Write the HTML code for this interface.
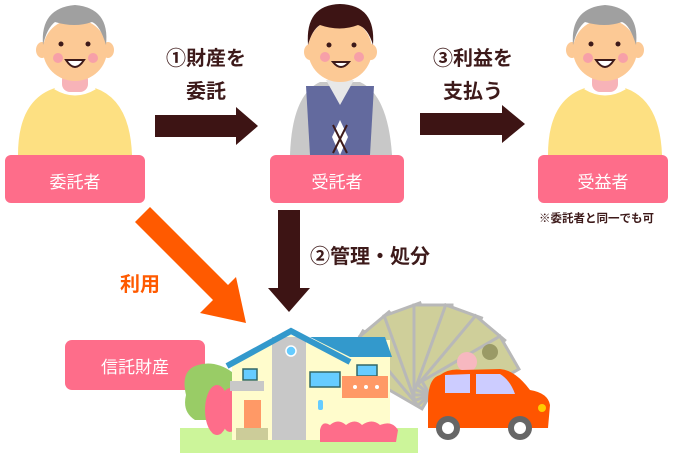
<!DOCTYPE html>
<html><head><meta charset="utf-8"><style>
html,body{margin:0;padding:0;background:#fff;}
svg{display:block;}
text{font-family:"Liberation Sans","Noto Sans CJK JP",sans-serif;}
</style></head><body>
<svg width="680" height="460" viewBox="0 0 680 460" xmlns="http://www.w3.org/2000/svg">
<!-- Left person -->
<g id="elder">
<path d="M18,155 Q18,100 55,88 L95,88 Q130,100 132,155 Z" fill="#fde082"/>
<path d="M55,88 Q75,100 95,88" fill="#fff" stroke="#fff" stroke-width="3"/>
<rect x="62" y="72" width="26" height="20" rx="8" fill="#f7b3b8"/>
<ellipse cx="42" cy="50" rx="6" ry="8" fill="#fcc995"/>
<ellipse cx="108" cy="50" rx="6" ry="8" fill="#fcc995"/>
<ellipse cx="75" cy="50" rx="32" ry="31" fill="#fcc995"/>
<path d="M43,45 Q40,8 75,5 Q110,8 106,45 Q100,25 92,22 Q75,28 55,22 Q47,28 43,45Z" fill="#a0a0a0"/>
<circle cx="61" cy="44" r="2.5" fill="#3d1a1a"/><circle cx="88" cy="44" r="2.5" fill="#3d1a1a"/>
<circle cx="58" cy="58" r="5" fill="#f7a0a8"/><circle cx="93" cy="58" r="5" fill="#f7a0a8"/>
<path d="M66,60 Q75,74 84,60 Z" fill="#fff" stroke="#3d1a1a" stroke-width="2"/>
</g>
<rect x="5" y="155" width="140" height="48" rx="6" fill="#fe6d8a"/>
<text x="75" y="188" font-size="17" fill="#fff" text-anchor="middle">委託者</text>

<!-- Middle person -->
<path d="M290,155 Q292,95 320,82 L360,82 Q388,95 392,155 Z" fill="#c8c8c8"/>
<path d="M306,86 L374,86 L370,155 L310,155 Z" fill="#636a9e"/>
<path d="M326,80 L340,105 L354,80 Z" fill="#e8e8e8"/>
<path d="M340,120 L348,137 L340,155 L332,137Z" fill="#fff"/>
<path d="M333,125 L347,153 M347,125 L333,153" stroke="#3d1a1a" stroke-width="2"/>
<ellipse cx="310" cy="52" rx="6" ry="8" fill="#fcc995"/>
<ellipse cx="371" cy="52" rx="6" ry="8" fill="#fcc995"/>
<ellipse cx="340" cy="50" rx="32" ry="32" fill="#fcc995"/>
<path d="M308,45 Q305,5 340,4 Q376,5 373,45 Q368,28 358,25 Q340,32 320,25 Q312,30 308,45Z" fill="#3d1414"/>
<circle cx="329" cy="45" r="2.5" fill="#3d1a1a"/><circle cx="354" cy="45" r="2.5" fill="#3d1a1a"/>
<circle cx="325" cy="57" r="5" fill="#f7a0a8"/><circle cx="359" cy="57" r="5" fill="#f7a0a8"/>
<path d="M333,62 Q341,72 349,62 Z" fill="#fff" stroke="#3d1a1a" stroke-width="2"/>
<rect x="270" y="155" width="134" height="48" rx="6" fill="#fe6d8a"/>
<text x="337" y="188" font-size="17" fill="#fff" text-anchor="middle">受託者</text>

<!-- Right person -->
<g transform="translate(530,0)"><use href="#elder"/></g>
<rect x="538" y="155" width="130" height="48" rx="6" fill="#fe6d8a"/>
<text x="539" y="222" font-size="11.5" font-weight="bold" fill="#3d1a1a">※委託者と同一でも可</text>

<text x="603" y="188" font-size="17" fill="#fff" text-anchor="middle">受益者</text>

<!-- Arrows -->
<polygon points="155,115 236,115 236,107 258,126 236,145 236,137 155,137" fill="#3d1414"/>
<polygon points="420,113 502,113 502,105 525,124 502,143 502,135 420,135" fill="#3d1414"/>
<text x="206" y="65" font-size="20" font-weight="bold" fill="#3d1a1a" text-anchor="middle">①財産を</text>
<text x="206" y="98" font-size="20" font-weight="bold" fill="#3d1a1a" text-anchor="middle">委託</text>
<text x="473" y="65" font-size="20" font-weight="bold" fill="#3d1a1a" text-anchor="middle">③利益を</text>
<text x="473" y="98" font-size="20" font-weight="bold" fill="#3d1a1a" text-anchor="middle">支払う</text>
<polygon points="278,210 300,210 300,288 310,288 289,312 268,288 278,288" fill="#3d1414"/>
<text x="310" y="263" font-size="20" font-weight="bold" fill="#3d1a1a">②管理・処分</text>
<polygon points="135,222 150,207 228,285 236,277 246,323 200,313 213,300" fill="#ff5a00"/>
<text x="120" y="291" font-size="20" font-weight="bold" fill="#ff5a00">利用</text>

<rect x="65" y="340" width="140" height="50" rx="7" fill="#fe6d8a"/>
<text x="135" y="373" font-size="17" fill="#fff" text-anchor="middle">信託財産</text>

<!-- Money fan -->
<g fill="#cfcf9a" stroke="#b8b8b8" stroke-width="3">
<g transform="rotate(-60 430 395)"><rect x="414" y="305" width="38" height="90"/></g>
<g transform="rotate(-40 430 395)"><rect x="414" y="305" width="38" height="90"/></g>
<g transform="rotate(-20 430 395)"><rect x="414" y="305" width="38" height="90"/></g>
<g transform="rotate(0 430 395)"><rect x="414" y="305" width="38" height="90"/></g>
<g transform="rotate(20 430 395)"><rect x="414" y="305" width="38" height="90"/></g>
<g transform="rotate(40 430 395)"><rect x="414" y="305" width="38" height="90"/></g>
<g transform="rotate(60 430 395)"><rect x="414" y="305" width="38" height="90"/></g>
</g>
<circle cx="467" cy="362" r="10" fill="#f7b8c0"/>
<circle cx="490" cy="352" r="8" fill="#9a9a66"/>

<!-- Grass -->
<rect x="180" y="428" width="238" height="25" fill="#ccf59a"/>
<!-- Tree -->
<path d="M186,395 Q180,370 198,365 Q215,360 232,372 L232,420 L195,420 Q182,412 186,395Z" fill="#99cc66"/>
<ellipse cx="217" cy="410" rx="12" ry="25" fill="#fe6d8a"/>
<ellipse cx="230" cy="410" rx="10" ry="22" fill="#fe6d8a"/>
<!-- House -->
<polygon points="300,340 390,340 390,440 300,440" fill="#fffccc"/>
<polygon points="232,365 291,335 350,362 350,440 232,440" fill="#fffccc"/>
<rect x="272" y="337" width="34" height="103" fill="#c8c8c8"/>
<polygon points="310,337 385,337 392,357 350,357" fill="#3399cc"/>
<polyline points="227,366 291,331 350,362" fill="none" stroke="#3399cc" stroke-width="6"/>
<circle cx="291" cy="351" r="5" fill="#66ccff" stroke="#fff" stroke-width="1.5"/>
<rect x="230" y="381" width="34" height="10" fill="#c8c8c8"/>
<rect x="243" y="369" width="14" height="11" fill="#66ccff" stroke="#336666" stroke-width="1.5"/>
<rect x="310" y="372" width="30" height="15" fill="#66ccff" stroke="#336666" stroke-width="1.5"/>
<rect x="357" y="365" width="20" height="11" fill="#66ccff" stroke="#336666" stroke-width="1.5"/>
<rect x="342" y="376" width="46" height="22" fill="#ff9966"/>
<circle cx="355" cy="387" r="2" fill="#fff"/><circle cx="366" cy="387" r="2" fill="#fff"/><circle cx="377" cy="387" r="2" fill="#fff"/>
<rect x="244" y="400" width="17" height="28" fill="#ff9966"/>
<rect x="236" y="428" width="32" height="12" fill="#cccc99"/>
<rect x="318" y="400" width="5" height="10" rx="2" fill="#66ccff"/>
<path d="M320,430 Q322,420 330,425 Q338,418 346,425 Q355,418 362,425 Q372,418 380,425 Q392,420 398,430 L396,442 L320,442Z" fill="#fe6d8a"/>
<!-- Car -->
<path d="M428,402 Q428,378 440,375 Q450,368 462,370 L500,369 Q515,370 530,390 Q548,393 550,405 L548,428 L428,428 Z" fill="#ff5500"/>
<path d="M445,375 L470,374 L470,393 L445,393Z" fill="#ccccff"/>
<path d="M476,374 L500,374 Q510,380 515,394 L476,394Z" fill="#ccccff"/>
<circle cx="448" cy="428" r="12" fill="#666"/><circle cx="448" cy="428" r="6" fill="#fff"/>
<circle cx="520" cy="428" r="12" fill="#666"/><circle cx="520" cy="428" r="6" fill="#fff"/>
<ellipse cx="542" cy="408" rx="4" ry="4" fill="#ffcc00"/>
</svg>
</body></html>
